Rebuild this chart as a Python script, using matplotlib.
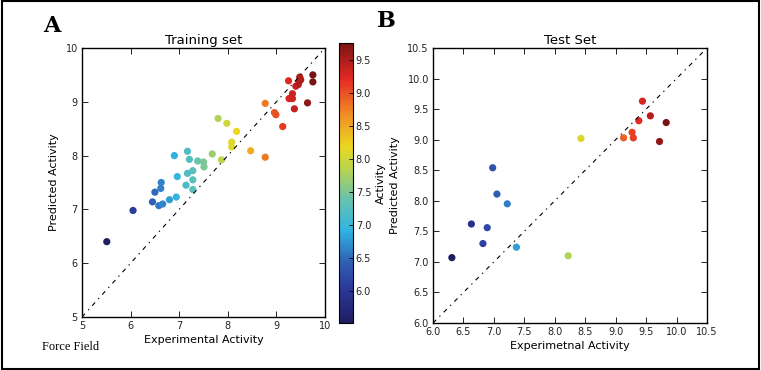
import numpy as np
import matplotlib
matplotlib.use('Agg')
import matplotlib.pyplot as plt
from matplotlib.patches import Rectangle
from matplotlib.colors import LinearSegmentedColormap

# Training set (experimental, predicted)
train_exp = [5.51, 6.05, 6.45, 6.50, 6.58, 6.66, 6.62, 6.63, 6.80, 6.94,
             6.90, 6.96, 7.17, 7.21, 7.17, 7.14, 7.28, 7.28, 7.28, 7.38,
             7.50, 7.51, 7.68, 7.87, 7.80, 7.98, 8.18, 8.08, 8.08, 8.47,
             8.77, 8.77, 8.96, 8.99, 9.13, 9.25, 9.26, 9.33, 9.33, 9.37,
             9.40, 9.45, 9.47, 9.48, 9.64, 9.75, 9.75, 9.50]
train_pred = [6.40, 6.98, 7.14, 7.32, 7.07, 7.10, 7.39, 7.50, 7.18, 7.23,
              8.00, 7.61, 8.08, 7.93, 7.67, 7.45, 7.72, 7.55, 7.37, 7.90,
              7.88, 7.79, 8.03, 7.92, 8.69, 8.60, 8.45, 8.25, 8.16, 8.09,
              7.97, 8.97, 8.80, 8.76, 8.54, 9.39, 9.06, 9.06, 9.15, 8.87,
              9.29, 9.32, 9.38, 9.46, 8.98, 9.50, 9.37, 9.41]

# Test set
test_exp = [6.31, 6.63, 6.82, 6.89, 6.98, 7.05, 7.22, 7.37, 8.22, 8.43,
            9.13, 9.27, 9.29, 9.38, 9.44, 9.57, 9.72, 9.83]
test_pred = [7.07, 7.62, 7.30, 7.56, 8.54, 8.11, 7.95, 7.24, 7.10, 9.02,
             9.03, 9.12, 9.03, 9.31, 9.63, 9.39, 8.97, 9.28]

train_ticks = [5, 6, 7, 8, 9, 10]
test_ticks = [6.0, 6.5, 7.0, 7.5, 8.0, 8.5, 9.0, 9.5, 10.0, 10.5]
cbar_ticks = [6.0, 6.5, 7.0, 7.5, 8.0, 8.5, 9.0, 9.5]

# jet, muted the way it looks in the printed figure
cmap = LinearSegmentedColormap.from_list('mjet', [
    (0.000, '#1e1e60'), (0.120, '#2c3898'), (0.220, '#3060b4'),
    (0.330, '#30b4e4'), (0.450, '#6cc4a8'), (0.550, '#b8d450'),
    (0.630, '#ecd820'), (0.750, '#f08a24'), (0.875, '#e42822'),
    (1.000, '#7a1414')])

W, H = 761, 370
fig = plt.figure(figsize=(W / 100, H / 100), dpi=100)

def ax_px(x0, y0, x1, y1):
    return [x0 / W, 1 - y1 / H, (x1 - x0) / W, (y1 - y0) / H]

def style(ax):
    ax.tick_params(direction='in', top=True, right=True, labelsize=7,
                   length=4, width=0.6, pad=3, labelcolor='#222222')
    for s in ax.spines.values():
        s.set_linewidth(1.0)

def diag(ax, lo, hi):
    ln, = ax.plot([lo, hi], [lo, hi], color='k', lw=0.8)
    ln.set_dashes((4, 4.2, 1.2, 4.2))

# panel A
ax1 = fig.add_axes(ax_px(82, 48, 325, 317))
sc = ax1.scatter(train_exp, train_pred, c=train_exp, cmap=cmap, s=27,
                 edgecolors='none')
diag(ax1, 5, 10)
ax1.set_xlim(5, 10)
ax1.set_ylim(5, 10)
ax1.set_xticks(train_ticks)
ax1.set_yticks(train_ticks)
style(ax1)
ax1.set_title('Training set', fontsize=9.5, pad=3)
ax1.set_xlabel('Experimental Activity', fontsize=8, labelpad=3)
ax1.set_ylabel('Predicted Activity', fontsize=8, labelpad=5)

cax = fig.add_axes(ax_px(339, 43, 353, 323))
cb = fig.colorbar(sc, cax=cax, ticks=cbar_ticks)
cb.ax.tick_params(labelsize=7, length=3, width=0.6, direction='in', pad=2,
                  labelcolor='#222222')
cb.outline.set_linewidth(0.8)
cb.set_label('Activity', fontsize=8, labelpad=3)

# panel B (own colour scale)
ax2 = fig.add_axes(ax_px(433, 48, 707, 323))
ax2.scatter(test_exp, test_pred, c=test_exp, cmap=cmap, s=27,
            edgecolors='none')
diag(ax2, 6, 10.5)
ax2.set_xlim(6, 10.5)
ax2.set_ylim(6, 10.5)
ax2.set_xticks(test_ticks)
ax2.set_yticks(test_ticks)
style(ax2)
ax2.set_title('Test Set', fontsize=9.5, pad=3)
ax2.set_xlabel('Experimetnal Activity', fontsize=8, labelpad=3)
ax2.set_ylabel('Predicted Activity', fontsize=8, labelpad=5)

fig.text(43 / W, 1 - 32 / H, 'A', fontsize=16, fontweight='bold',
         family='DejaVu Serif', va='baseline')
fig.text(377 / W, 1 - 27 / H, 'B', fontsize=16, fontweight='bold',
         family='DejaVu Serif', va='baseline')
fig.text(42 / W, 1 - 350 / H, 'Force Field', fontsize=9,
         family='Liberation Serif', va='baseline')

fig.patches.append(Rectangle((0.002, 0.004), 0.996, 0.992, fill=False,
                             edgecolor='black', lw=1.5,
                             transform=fig.transFigure, figure=fig))

fig.savefig('out.png', dpi=100)
